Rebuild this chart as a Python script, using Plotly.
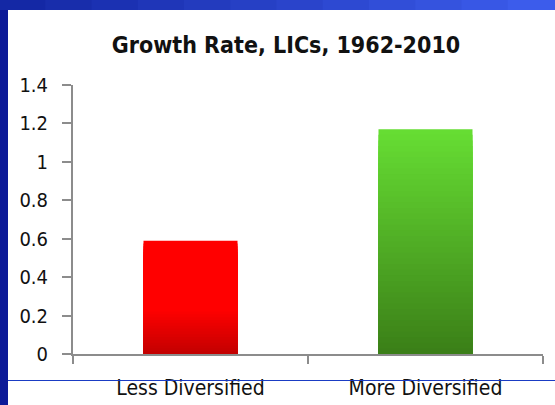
import plotly.graph_objects as go

categories = ["Less Diversified", "More Diversified"]
growth = [0.59, 1.17]

# gradient ends for each bar: (bottom rgb, top rgb, height fraction where top colour starts)
bar_grad = [((192, 0, 0), (255, 0, 0), 0.4), ((58, 125, 23), (102, 221, 51), 1.0)]

FONT = "Liberation Sans Narrow, Arial Narrow, DejaVu Sans Condensed, DejaVu Sans, sans-serif"

fig = go.Figure()

# fake vertical gradient by stacking overlaid bars of decreasing height
n = 40
for i in range(n):
    f = 1 - i / n
    cols = []
    for lo, hi, stop in bar_grad:
        t = min(f / stop, 1.0)
        c = [round(lo[k] + (hi[k] - lo[k]) * t) for k in range(3)]
        cols.append("rgb(%d,%d,%d)" % tuple(c))
    fig.add_trace(go.Bar(x=categories, y=[v * f for v in growth], width=0.4,
                         marker=dict(color=cols, line=dict(width=0)),
                         hoverinfo="skip", showlegend=False))

# slide frame: left strip, top band, blue rule near bottom
W, H = 555, 405
L, R, T, B = 73, 12, 85, 51
pw, ph = W - L - R, H - T - B
px = lambda p: (p - L) / pw
py = lambda p: (H - B - p) / ph

shapes = [dict(type="rect", xref="paper", yref="paper", x0=px(-2), x1=px(8), y0=py(410), y1=py(-5),
               fillcolor="#0c1a98", line=dict(width=0), layer="above")]
steps = 12
for i in range(steps):
    t = i / (steps - 1)
    c = (round(20 + 40 * t), round(40 + 52 * t), round(165 + 70 * t))
    shapes.append(dict(type="rect", xref="paper", yref="paper",
                       x0=px(W * i / steps - 1), x1=px(W * (i + 1) / steps + 1),
                       y0=py(10), y1=py(-5), fillcolor="rgb(%d,%d,%d)" % c,
                       line=dict(width=0), layer="above"))
shapes.append(dict(type="line", xref="paper", yref="paper", x0=px(8), x1=px(W + 5),
                   y0=py(380.5), y1=py(380.5), line=dict(color="#1a3cc4", width=1), layer="above"))

fig.update_layout(
    width=W, height=H,
    margin=dict(l=L, r=R, t=T, b=B, autoexpand=False),
    paper_bgcolor="white", plot_bgcolor="white",
    barmode="overlay",
    shapes=shapes,
    title=dict(text="<b>Growth Rate, LICs, 1962-2010</b>", x=286 / W, xanchor="center",
               y=1 - 45 / H, yanchor="middle", yref="container",
               font=dict(family=FONT, size=23, color="#111")),
    font=dict(family=FONT, color="#111"),
    xaxis=dict(showline=True, linecolor="#8c8c8c", linewidth=2, ticks="outside",
               tickson="boundaries", ticklen=8, tickcolor="#8c8c8c", tickwidth=2,
               tickfont=dict(size=21, family=FONT, color="#111"), showgrid=False,
               automargin=False, ticklabelstandoff=14),
    yaxis=dict(range=[0, 1.4], dtick=0.2, showline=True, linecolor="#8c8c8c", linewidth=2,
               ticks="outside", ticklen=9, tickcolor="#8c8c8c", tickwidth=1.5,
               tickfont=dict(size=20, family=FONT, color="#111"), showgrid=False,
               automargin=False, zeroline=False, ticklabelstandoff=10),
)

# drop the default page margin so the figure sits at the window corner
fig.write_html("out.html", config={"displayModeBar": False},
               post_script="document.body.style.margin='0px';")
